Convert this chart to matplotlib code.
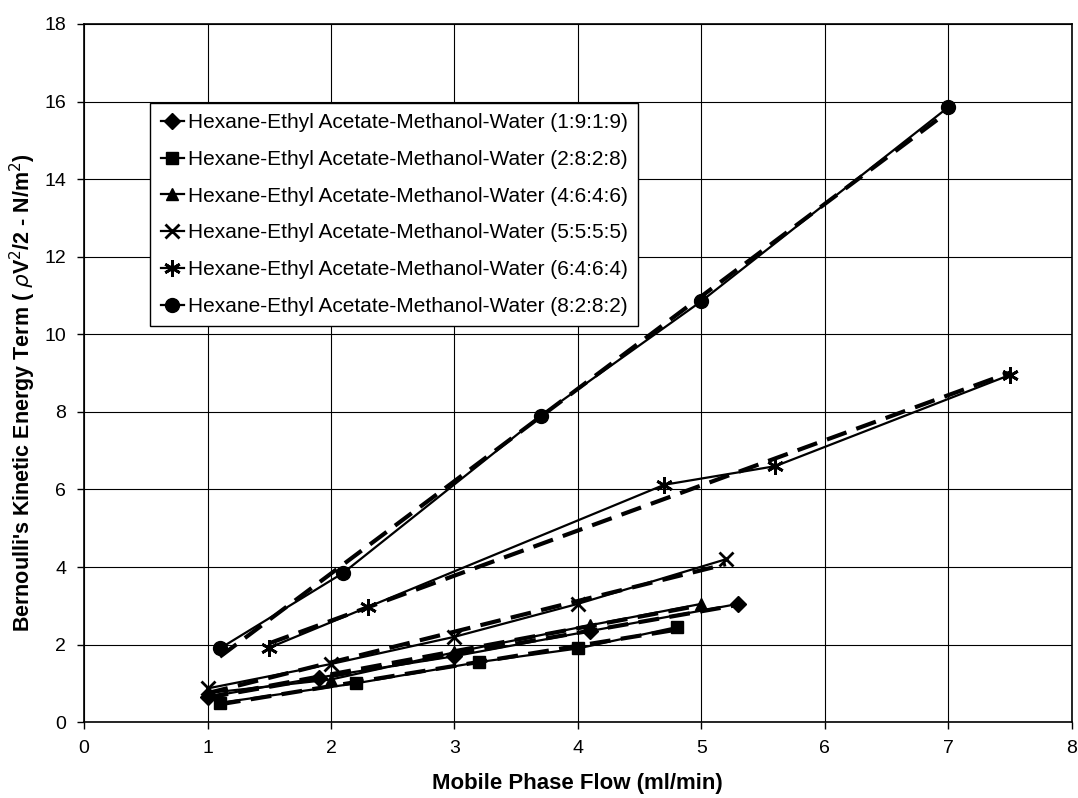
import numpy as np
import matplotlib.pyplot as plt

plt.rcParams['font.family'] = ['Liberation Sans', 'DejaVu Sans']

# flow (ml/min) and kinetic energy term for each solvent ratio
labels = [
    "Hexane-Ethyl Acetate-Methanol-Water (1:9:1:9)",
    "Hexane-Ethyl Acetate-Methanol-Water (2:8:2:8)",
    "Hexane-Ethyl Acetate-Methanol-Water (4:6:4:6)",
    "Hexane-Ethyl Acetate-Methanol-Water (5:5:5:5)",
    "Hexane-Ethyl Acetate-Methanol-Water (6:4:6:4)",
    "Hexane-Ethyl Acetate-Methanol-Water (8:2:8:2)",
]
x_1919 = [1.0, 1.9, 3.0, 4.1, 5.3]
y_1919 = [0.65, 1.15, 1.70, 2.35, 3.05]
x_2828 = [1.1, 2.2, 3.2, 4.0, 4.8]
y_2828 = [0.50, 1.00, 1.55, 1.90, 2.45]
x_4646 = [1.0, 2.0, 3.0, 4.1, 5.0]
y_4646 = [0.75, 1.10, 1.80, 2.50, 3.05]
x_5555 = [1.0, 2.0, 3.0, 4.0, 5.2]
y_5555 = [0.87, 1.50, 2.20, 3.05, 4.20]
x_6464 = [1.5, 2.3, 4.7, 5.6, 7.5]
y_6464 = [1.92, 2.97, 6.12, 6.60, 8.95]
x_8282 = [1.1, 2.1, 3.7, 5.0, 7.0]
y_8282 = [1.90, 3.85, 7.90, 10.85, 15.85]

xs = [x_1919, x_2828, x_4646, x_5555, x_6464, x_8282]
ys = [y_1919, y_2828, y_4646, y_5555, y_6464, y_8282]
markers = ['D', 's', '^', 'x', (6, 2, 0), 'o']
msizes = [8, 9, 9, 10, 12, 10]

fig = plt.figure(figsize=(10.78, 7.98), dpi=100)
ax = fig.add_axes([0.078, 0.095, 0.916, 0.875])

for x, y, m, ms, lab in zip(xs, ys, markers, msizes, labels):
    ax.plot(x, y, color='black', lw=1.6, marker=m, ms=ms, mew=2 if m in ('x', (6, 2, 0)) else 1,
            mfc='black', mec='black', label=lab, zorder=3)
    # linear trendline
    k, b = np.polyfit(x, y, 1)
    xt = np.array([min(x), max(x)])
    ax.plot(xt, k * xt + b, color='black', lw=3, ls=(0, (5, 2.5)), zorder=2)

ax.set_xlim(0, 8)
ax.set_ylim(0, 18)
ax.set_xticks(range(0, 9))
ax.set_yticks(range(0, 19, 2))
ax.grid(True, color='black', lw=0.8)
ax.set_axisbelow(True)
ax.tick_params(labelsize=14, length=5, color='black', width=1, pad=8)
for s in ax.spines.values():
    s.set_linewidth(1.2)

ax.set_xlabel("Mobile Phase Flow (ml/min)", fontsize=16, fontweight='bold', labelpad=11)
ax.set_ylabel(r"Bernoulli's Kinetic Energy Term ( $\rho$V$^2$/2 - N/m$^2$)",
              fontsize=15.5, fontweight='bold', va='center')
ax.yaxis.set_label_coords(-0.062, 0.472)

leg = ax.legend(loc='upper left', bbox_to_anchor=(0.067, 0.887), fontsize=15,
                frameon=True, fancybox=False, edgecolor='black', framealpha=1,
                handlelength=1.1, labelspacing=0.85, borderpad=0.5, handletextpad=0.2,
                borderaxespad=0)
leg.get_frame().set_linewidth(1.0)

fig.savefig('out.png', dpi=100)
